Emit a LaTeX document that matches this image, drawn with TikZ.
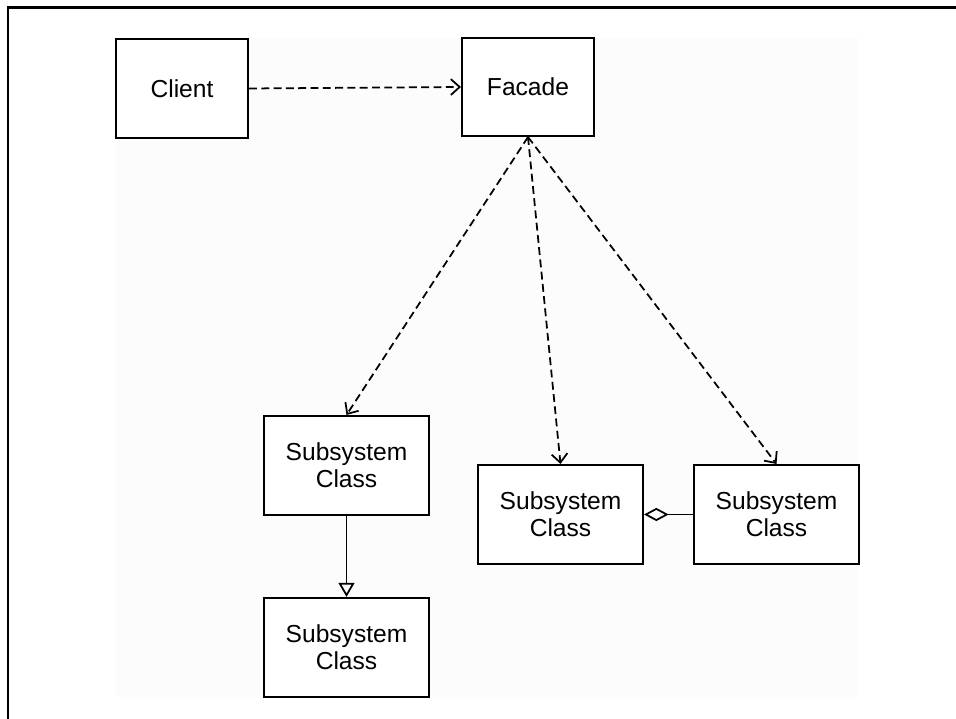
\documentclass[tikz,border=0pt]{standalone}
\usepackage{fontspec}
\setmainfont{Liberation Sans}
\usepackage{tikz}
\usetikzlibrary{positioning,arrows.meta}

\tikzset{
  classbox/.style={draw, line width=1.2pt, fill=white, align=center,
    font=\fontsize{14}{15.5}\selectfont, inner sep=2pt},
  depline/.style={line width=1pt, dash pattern=on 4.5pt off 2.5pt,
    -{Straight Barb[length=5pt,width=9pt,line width=1pt]}}
}

\begin{document}
\begin{tikzpicture}[x=0.02cm,y=0.02cm]
      \useasboundingbox (0,0) rectangle (956,719);
      \fill[black!1] (116,22) rectangle (859,681);
      \draw[line width=1.7pt] (8,0) -- (8,711) -- (956,711);

      \node[classbox, minimum width=2.64cm, minimum height=1.98cm] (client) at (182,630.5) {Client};
      \node[classbox, minimum width=2.64cm, minimum height=1.96cm] (facade) at (528,632) {Facade};
      \node[classbox, minimum width=3.3cm, minimum height=1.98cm] (suba) at (346.5,253.5) {Subsystem\\Class};
      \node[classbox, minimum width=3.3cm, minimum height=1.98cm] (subb) at (346.5,71.5) {Subsystem\\Class};
      \node[classbox, minimum width=3.3cm, minimum height=1.98cm] (subc) at (560.5,204.5) {Subsystem\\Class};
      \node[classbox, minimum width=3.3cm, minimum height=1.98cm] (subd) at (776.5,204.5) {Subsystem\\Class};

      \draw[depline] (client.east) -- (facade.west);
      \draw[depline] (facade.south) -- (suba.north);
      \draw[depline] (facade.south) -- (subc.north);
      \draw[depline] (facade.south) -- (subd.north);

      \draw[line width=1.1pt, -{Triangle[open,length=8pt,width=9pt,line width=1pt]}] (suba.south) -- (subb.north);
      \draw[line width=1.1pt, -{Diamond[open,length=14pt,width=7.5pt,line width=1pt]}] (subd.west) -- (subc.east);

    \end{tikzpicture}
\end{document}
